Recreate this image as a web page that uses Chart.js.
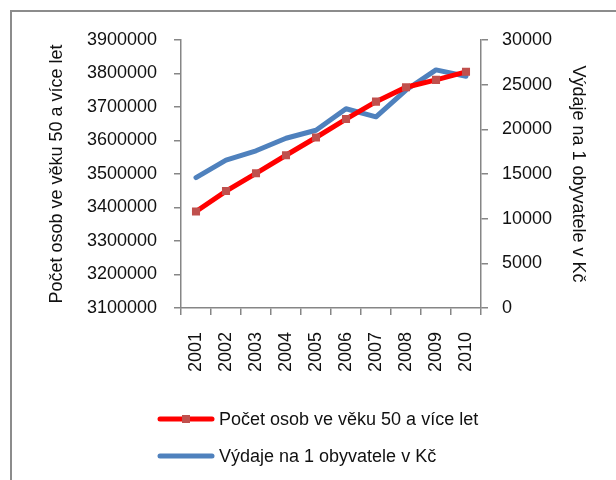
<!DOCTYPE html>
<html>
<head>
<meta charset="utf-8">
<script src="https://cdn.jsdelivr.net/npm/chart.js@4/dist/chart.umd.min.js"></script>
<style>
  html, body { margin: 0; padding: 0; background: #fff; overflow: hidden; }
  #wrap { position: relative; width: 616px; height: 480px; }
  #frame { position: absolute; left: 10px; top: 10px; width: 700px; height: 600px; border: 2px solid #8c8c8c; }
  canvas { position: absolute; left: 0; top: 0; }
</style>
</head>
<body>
<div id="wrap">
  <div id="frame"></div>
  <canvas id="chart" width="616" height="480"></canvas>
</div>
<script>
const years = ["2001", "2002", "2003", "2004", "2005", "2006", "2007", "2008", "2009", "2010"];
const persons50 = [3388000, 3449000, 3502000, 3556000, 3609000, 3664000, 3716000, 3759000, 3781000, 3805000];
const spendingPerCapita = [14600, 16550, 17600, 19000, 19900, 22300, 21400, 24400, 26650, 25950];

const leftTitle = "Počet osob ve věku 50 a více let";
const rightTitle = "Výdaje na 1 obyvatele v Kč";

const axisGray = "#868686";
const font18 = { family: "'Liberation Sans', Arial, sans-serif", size: 18 };

// legend drawn under the plot, one entry per line
const stackedLegend = {
  id: "stackedLegend",
  afterDraw(chart) {
    const ctx = chart.ctx;
    const area = chart.chartArea;
    const x0 = area.left - 21;
    let y = area.bottom + 111;
    ctx.save();
    chart.data.datasets.forEach((ds) => {
      ctx.strokeStyle = ds.borderColor;
      ctx.lineWidth = ds.borderWidth;
      ctx.lineCap = "round";
      ctx.beginPath();
      ctx.moveTo(x0, y);
      ctx.lineTo(x0 + 52, y);
      ctx.stroke();
      if (ds.pointRadius > 0) {
        ctx.fillStyle = ds.pointBackgroundColor;
        ctx.fillRect(x0 + 22, y - 4, 8, 8);
      }
      ctx.fillStyle = "#111";
      ctx.font = "18px 'Liberation Sans', Arial, sans-serif";
      ctx.textBaseline = "middle";
      ctx.fillText(ds.label, x0 + 59, y + 1);
      y += 37;
    });
    ctx.restore();
  }
};

new Chart(document.getElementById("chart"), {
  type: "line",
  data: {
    labels: years,
    datasets: [
      {
        label: leftTitle,
        data: persons50,
        yAxisID: "y",
        borderColor: "#ff0000",
        borderWidth: 5,
        pointStyle: "rect",
        pointRadius: 5.7,
        pointBorderWidth: 0,
        pointBackgroundColor: "#c0504d",
        pointBorderColor: "#c0504d",
        tension: 0
      },
      {
        label: rightTitle,
        data: spendingPerCapita,
        yAxisID: "y1",
        borderColor: "#4f81bd",
        borderWidth: 5,
        borderCapStyle: "round",
        borderJoinStyle: "round",
        pointRadius: 0,
        tension: 0
      }
    ]
  },
  options: {
    responsive: false,
    animation: false,
    layout: { padding: { left: 12, right: 0, top: 40, bottom: 0 } },
    plugins: { legend: { display: false }, tooltip: { enabled: false } },
    scales: {
      x: {
        offset: true,
        afterFit: (s) => { s.height = 172; },
        grid: { offset: true, drawOnChartArea: false, tickLength: 7, color: axisGray, lineWidth: 1.5 },
        border: { color: axisGray, width: 1.5 },
        ticks: { minRotation: 90, maxRotation: 90, autoSkip: false, padding: 17, color: "#111", font: font18 }
      },
      y: {
        position: "left",
        min: 3100000,
        max: 3900000,
        afterFit: (s) => { s.width = 169; },
        grid: { drawOnChartArea: false, tickLength: 7, color: axisGray, lineWidth: 1.5 },
        border: { color: axisGray, width: 1.5 },
        ticks: { stepSize: 100000, padding: 17, color: "#111", font: font18, callback: (v) => String(v) },
        title: { display: true, text: leftTitle, color: "#111", font: font18, padding: { top: 34, bottom: 0 } }
      },
      y1: {
        position: "right",
        min: 0,
        max: 30000,
        afterFit: (s) => { s.width = 135; },
        grid: { drawOnChartArea: false, tickLength: 7, color: axisGray, lineWidth: 1.5 },
        border: { color: axisGray, width: 1.5 },
        ticks: { stepSize: 5000, padding: 14, color: "#111", font: font18, callback: (v) => String(v) },
        title: { display: true, text: rightTitle, color: "#111", font: font18, padding: { top: 27, bottom: 0 } }
      }
    }
  },
  plugins: [stackedLegend]
});
</script>
</body>
</html>
